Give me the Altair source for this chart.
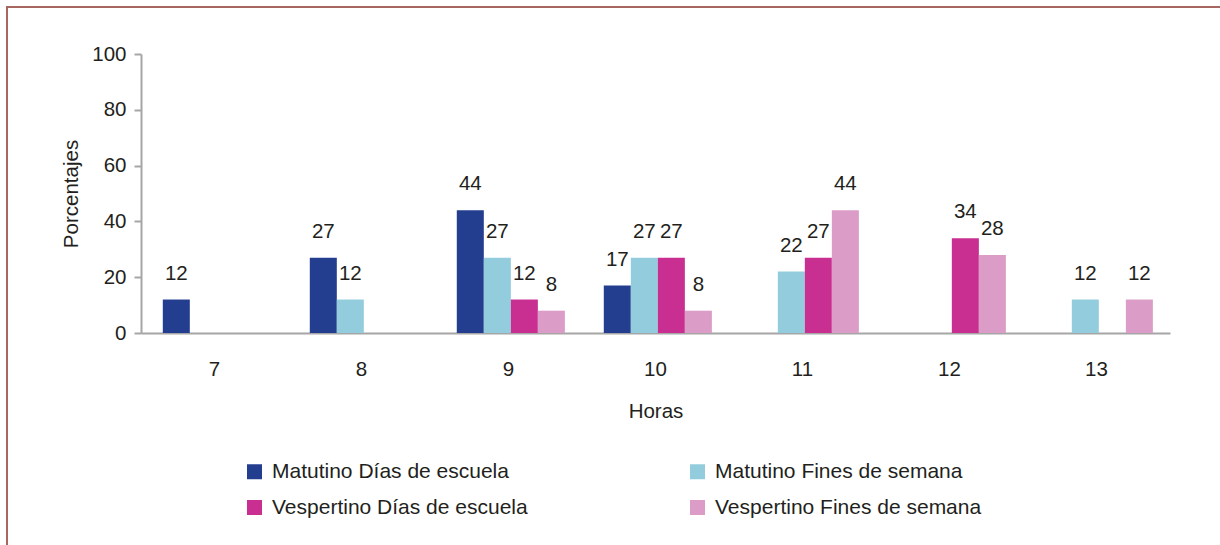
import altair as alt
import pandas as pd

# Hour groups along the x axis
horas = ["7", "8", "9", "10", "11", "12", "13"]

# Series names (order of bars inside each hour group)
series = [
    "Matutino Días de escuela",
    "Matutino Fines de semana",
    "Vespertino Días de escuela",
    "Vespertino Fines de semana",
]

# Percentages per hour for each series (None = no bar)
matutino_escuela = [12, 27, 44, 17, None, None, None]
matutino_fines = [None, 12, 27, 27, 22, None, 12]
vespertino_escuela = [None, None, 12, 27, 27, 34, None]
vespertino_fines = [None, None, 8, 8, 44, 28, 12]

colores = {
    "Matutino Días de escuela": "#233E8F",
    "Matutino Fines de semana": "#93CDDD",
    "Vespertino Días de escuela": "#C92E91",
    "Vespertino Fines de semana": "#DB9DC7",
}

# The legend fills its two columns top to bottom, so list the
# "Días de escuela" entries first to get one row per shift.
legend_order = [
    "Matutino Días de escuela",
    "Vespertino Días de escuela",
    "Matutino Fines de semana",
    "Vespertino Fines de semana",
]

rows = []
for nombre, valores in zip(
    series, [matutino_escuela, matutino_fines, vespertino_escuela, vespertino_fines]
):
    for h, v in zip(horas, valores):
        if v is not None:
            rows.append({"hora": h, "serie": nombre, "valor": v})
df = pd.DataFrame(rows)

FONT = "Liberation Sans"
TEXT = "#231F20"
GRAY = "#A6A6A6"
FS = 20.5

base = alt.Chart(df).encode(
    x=alt.X(
        "hora:N",
        sort=horas,
        scale=alt.Scale(paddingInner=0, paddingOuter=0),
        axis=alt.Axis(
            title="Horas",
            labelAngle=0,
            ticks=False,
            labelPadding=26,
            titlePadding=22,
        ),
    ),
    xOffset=alt.XOffset(
        "serie:N",
        sort=series,
        scale=alt.Scale(
            domain=series, paddingInner=0, paddingOuter=0.72, align=0.56
        ),
    ),
    y=alt.Y(
        "valor:Q",
        scale=alt.Scale(domain=[0, 100]),
        axis=alt.Axis(
            title="Porcentajes",
            values=[0, 20, 40, 60, 80, 100],
            tickSize=7,
            labelPadding=8,
            titlePadding=10,
            grid=False,
        ),
    ),
)

bars = base.mark_bar().encode(
    color=alt.Color(
        "serie:N",
        sort=legend_order,
        scale=alt.Scale(
            domain=legend_order, range=[colores[s] for s in legend_order]
        ),
        legend=alt.Legend(
            title=None,
            orient="none",
            legendX=103,
            legendY=407,
            columns=2,
            symbolType="square",
            symbolSize=225,
            symbolStrokeWidth=0,
            labelFontSize=21,
            labelColor=TEXT,
            labelFont=FONT,
            labelOffset=7,
            labelLimit=0,
            rowPadding=14,
            columnPadding=159,
        ),
    )
)

labels = base.mark_text(
    baseline="bottom", dy=-16, fontSize=FS, color=TEXT, font=FONT
).encode(text="valor:Q")

# Decorative frame around the figure
frame = (
    alt.Chart(pd.DataFrame({"k": [0]}))
    .mark_rect(fill=None, stroke="#A86660", strokeWidth=2)
    .encode(
        x=alt.value(-134),
        x2=alt.value(1120),
        y=alt.value(-47),
        y2=alt.value(520),
    )
)

chart = (
    alt.layer(frame, bars, labels)
    .properties(
        width=1029,
        height=279,
        autosize=alt.AutoSizeParams(type="none"),
        padding={"left": 141, "top": 54, "right": 50, "bottom": 212},
        background="white",
    )
    .configure_view(stroke=None)
    .configure_axis(
        labelFont=FONT,
        titleFont=FONT,
        labelFontSize=FS,
        titleFontSize=FS,
        titleFontWeight="normal",
        labelColor=TEXT,
        titleColor=TEXT,
        domainColor=GRAY,
        domainWidth=2,
        tickColor=GRAY,
        tickWidth=2,
    )
)

chart.save("out.html", embed_options={"renderer": "svg", "actions": False})
